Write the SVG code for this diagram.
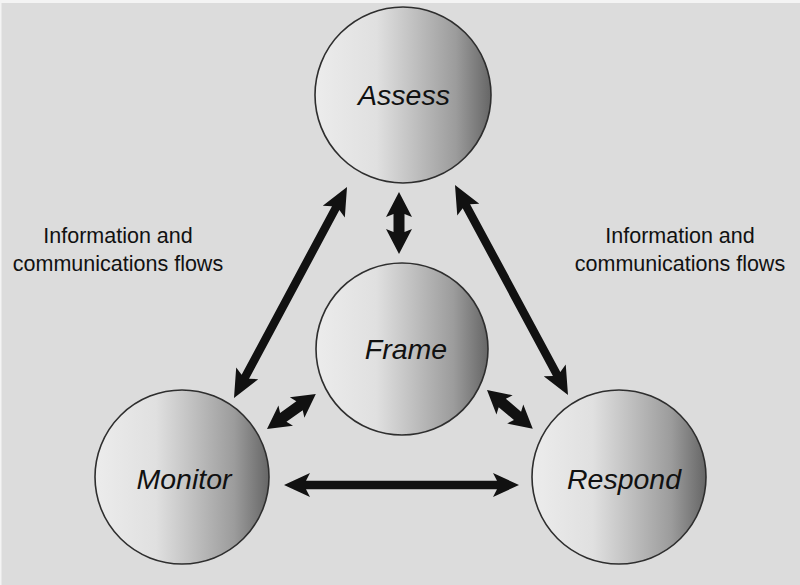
<svg xmlns="http://www.w3.org/2000/svg" width="800" height="585" viewBox="0 0 800 585">
<defs>
<linearGradient id="ball" x1="0" y1="0" x2="1" y2="0">
<stop offset="0" stop-color="#ececec"/>
<stop offset="0.35" stop-color="#e0e0e0"/>
<stop offset="0.55" stop-color="#c2c2c2"/>
<stop offset="0.8" stop-color="#9c9c9c"/>
<stop offset="1" stop-color="#666666"/>
</linearGradient>
</defs>
<style>
.node circle{fill:url(#ball);stroke:#2e2e2e;stroke-width:1.6}
.node text{font-family:"Liberation Sans",Arial,sans-serif;font-style:italic;font-size:28.5px;fill:#111;text-anchor:middle}
.lbl{font-family:"Liberation Sans",Arial,sans-serif;font-size:21.5px;fill:#111;text-anchor:middle}
.arr{fill:#111}
</style>
<rect width="800" height="585" fill="#f4f4f4"/>
<rect x="1.5" y="3" width="798.5" height="582" fill="#dcdcdc"/>
<g id="assess" class="node"><circle cx="403" cy="95" r="88"/><text x="404" y="105">Assess</text></g>
<g id="frame" class="node"><circle cx="402" cy="349" r="86"/><text x="406" y="359">Frame</text></g>
<g id="monitor" class="node"><circle cx="182" cy="477" r="87"/><text x="184" y="489">Monitor</text></g>
<g id="respond" class="node"><circle cx="619" cy="477" r="87"/><text x="624" y="489">Respond</text></g>
<g id="connectors" class="arr">
<path transform="translate(234,398) rotate(-61.83)" d="M0,0 L28,-12.5 L24,-4.2 L215.4,-4.2 L211.4,-12.5 L239.4,0 L211.4,12.5 L215.4,4.2 L24,4.2 L28,12.5 Z"/>
<path transform="translate(455,185) rotate(61.72)" d="M0,0 L28,-12.5 L24,-4.2 L214.5,-4.2 L210.5,-12.5 L238.5,0 L210.5,12.5 L214.5,4.2 L24,4.2 L28,12.5 Z"/>
<path transform="translate(284,485)" d="M0,0 L26,-12 L22,-4.2 L213,-4.2 L209,-12 L235,0 L209,12 L213,4.2 L22,4.2 L26,12 Z"/>
<path transform="translate(399,192) rotate(90)" d="M0,0 L25,-13 L22,-5.5 L40,-5.5 L37,-13 L62,0 L37,13 L40,5.5 L22,5.5 L25,13 Z"/>
<path transform="translate(267,429) rotate(-35.54)" d="M0,0 L23,-12.5 L20,-5.5 L40,-5.5 L37,-12.5 L60,0 L37,12.5 L40,5.5 L20,5.5 L23,12.5 Z"/>
<path transform="translate(487,390) rotate(40.29)" d="M0,0 L23,-12.5 L20,-5.5 L40,-5.5 L37,-12.5 L60,0 L37,12.5 L40,5.5 L20,5.5 L23,12.5 Z"/>
</g>
<text class="lbl" x="118" y="243">Information and</text>
<text class="lbl" x="118" y="271">communications flows</text>
<text class="lbl" x="680" y="243">Information and</text>
<text class="lbl" x="680" y="271">communications flows</text>
</svg>
